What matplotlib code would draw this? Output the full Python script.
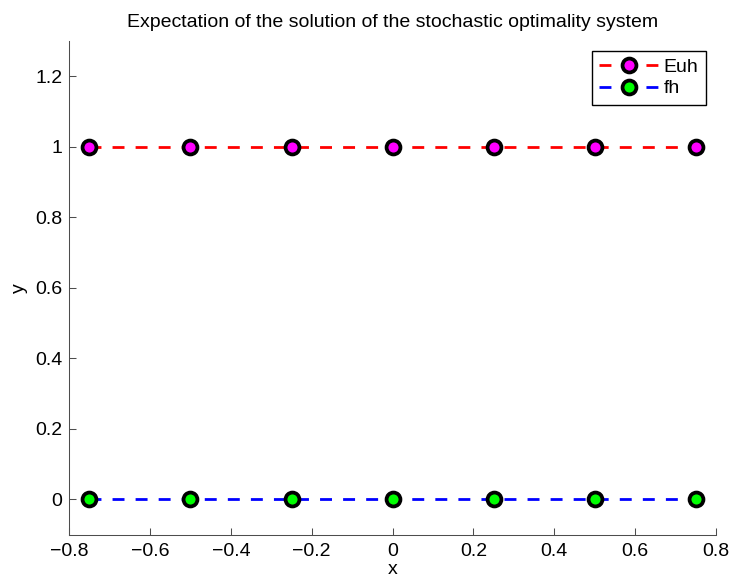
import numpy as np
import matplotlib.pyplot as plt

plt.rcParams['font.family'] = ['Liberation Sans', 'DejaVu Sans']

x_vals = [-0.75, -0.5, -0.25, 0.0, 0.25, 0.5, 0.75]
euh = [1, 1, 1, 1, 1, 1, 1]
fh = [0, 0, 0, 0, 0, 0, 0]

x_ticks = [-0.8, -0.6, -0.4, -0.2, 0, 0.2, 0.4, 0.6, 0.8]
x_labels = ['\u22120.8', '\u22120.6', '\u22120.4', '\u22120.2', '0', '0.2', '0.4', '0.6', '0.8']
y_ticks = [0, 0.2, 0.4, 0.6, 0.8, 1, 1.2]
y_labels = ['0', '0.2', '0.4', '0.6', '0.8', '1', '1.2']

FS = 14
AX_COL = '0.3'

fig = plt.figure(figsize=(7.33, 5.83), dpi=100)
ax = fig.add_axes([0.0945, 0.083, 0.882, 0.847])

style = dict(lw=2, linestyle=(0, (4.3, 4.0)), marker='o', markeredgecolor='black',
             markersize=10, markeredgewidth=2.7)
ax.plot(x_vals, euh, color='red', markerfacecolor='magenta', label='Euh', **style)
ax.plot(x_vals, fh, color='blue', markerfacecolor='#00ff00', label='fh', **style)

ax.set_xlim(-0.8, 0.8)
ax.set_ylim(-0.1, 1.3)
ax.set_xticks(x_ticks)
ax.set_xticklabels(x_labels)
ax.set_yticks(y_ticks)
ax.set_yticklabels(y_labels)
ax.tick_params(direction='in', length=5, labelsize=FS, width=0.75, color=AX_COL)
ax.tick_params(axis='x', pad=6)
ax.tick_params(axis='y', pad=5)
ax.spines['top'].set_visible(False)
ax.spines['right'].set_visible(False)
for s in ('left', 'bottom'):
    ax.spines[s].set_color(AX_COL)
    ax.spines[s].set_linewidth(0.75)

ax.set_xlabel('x', fontsize=FS, labelpad=1)
ax.set_ylabel('y', fontsize=FS, labelpad=5)
ax.set_title('Expectation of the solution of the stochastic optimality system', fontsize=14, pad=10)

leg = ax.legend(loc='upper right', numpoints=1, handlelength=3.0, fancybox=False,
                edgecolor='black', framealpha=1, fontsize=FS, borderaxespad=0.5,
                handletextpad=0.3, labelspacing=0.2, borderpad=0.4)
leg.get_frame().set_linewidth(1.0)
for ln in leg.get_lines():
    ln.set_linestyle((0, (4.3, 12.6)))

fig.savefig('out.png', dpi=100)
